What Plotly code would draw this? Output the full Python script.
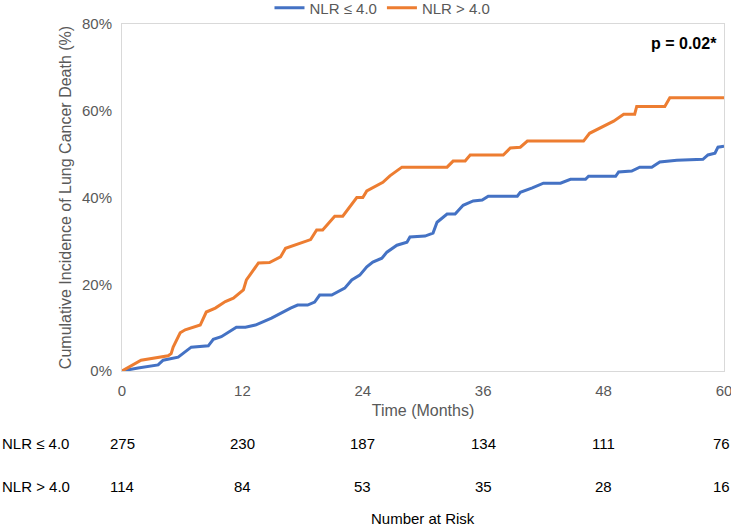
import plotly.graph_objects as go

# waktu (bulan) dan insidensi kumulatif (%)
t_low = [0, 1.6, 3.6, 4.1, 5.6, 6.9, 8.6, 9.1, 9.9, 11.4, 12.3, 13.3, 14.9, 15.6, 16.8,
         17.5, 18.5, 19.2, 19.7, 20.9, 22.2, 22.9, 23.7, 24.4, 25.0, 25.9, 26.4, 27.4,
         28.4, 28.7, 30.2, 31.0, 31.4, 32.4, 33.2, 34.0, 35.0, 35.9, 36.5, 39.4, 39.7,
         40.9, 42.0, 43.7, 44.7, 46.2, 46.5, 49.2, 49.5, 50.8, 51.6, 52.8, 53.6, 55.3,
         57.9, 58.4, 59.1, 59.4, 60]
inc_low = [0, 0.7, 1.4, 2.5, 3.2, 5.5, 5.8, 7.3, 7.9, 10.1, 10.1, 10.6, 12.2, 13.1, 14.5,
           15.2, 15.2, 15.9, 17.5, 17.5, 19.1, 21, 22.1, 24, 25.1, 26, 27.4, 29,
           29.7, 30.9, 31.1, 31.8, 34.3, 36.2, 36.2, 38.2, 39.2, 39.4, 40.3, 40.3, 41.2,
           42.2, 43.3, 43.3, 44.2, 44.2, 44.9, 44.9, 45.9, 46.1, 47, 47, 48.2, 48.6,
           48.8, 49.8, 50.2, 51.6, 51.8]

t_high = [0, 1.9, 4.6, 4.9, 5.1, 5.8, 6.3, 7.8, 8.4, 9.3, 10.3, 11.1, 12.1, 12.4, 12.9,
          13.6, 14.7, 15.8, 16.3, 17.5, 18.8, 19.4, 20.0, 21.2, 22.0, 23.4, 24.0, 24.4,
          26.0, 26.7, 27.9, 32.4, 33.0, 34.2, 34.7, 38.0, 38.7, 39.7, 40.4, 46.0, 46.6,
          49.0, 50.0, 51.1, 51.3, 54.1, 54.6, 60]
inc_high = [0, 2.5, 3.5, 4, 5.5, 8.8, 9.5, 10.6, 13.6, 14.5, 16, 16.8, 18.7, 21, 22.6,
            24.9, 25, 26.3, 28.3, 29.3, 30.3, 32.5, 32.5, 35.7, 35.7, 40, 40, 41.5,
            43.5, 45, 47, 47, 48.4, 48.4, 49.8, 49.8, 51.4, 51.6, 53, 53, 54.8,
            57.6, 59.2, 59.2, 61, 61, 63, 63]

# tabel number at risk
risk_times = [0, 12, 24, 36, 48, 60]
risk_low = [275, 230, 187, 134, 111, 76]
risk_high = [114, 84, 53, 35, 28, 16]
group_names = ["NLR ≤ 4.0", "NLR > 4.0"]

FONT = "Arial, Liberation Sans, sans-serif"
GRAY = "#595959"

fig = go.Figure()
fig.add_trace(go.Scatter(x=t_low, y=inc_low, mode="lines", name=group_names[0],
                         line=dict(color="#4472C4", width=3)))
fig.add_trace(go.Scatter(x=t_high, y=inc_high, mode="lines", name=group_names[1],
                         line=dict(color="#ED7D31", width=3)))

annotations = []
# baris tabel risiko
for shift, label, counts in [(-72, group_names[0], risk_low), (-115, group_names[1], risk_high)]:
    annotations.append(dict(x=0, xref="paper", xshift=-122, xanchor="left",
                            y=0, yref="paper", yshift=shift, yanchor="middle",
                            text=label, showarrow=False,
                            font=dict(size=15, color="#000000", family=FONT)))
    for tm, n in zip(risk_times, counts):
        # kolom terakhir digeser sedikit supaya tidak terpotong di tepi
        annotations.append(dict(x=tm, xref="x", xanchor="center",
                                xshift=-3 if tm == risk_times[-1] else 0,
                                y=0, yref="paper", yshift=shift, yanchor="middle",
                                text=str(n), showarrow=False,
                                font=dict(size=15, color="#000000", family=FONT)))

annotations.append(dict(x=0.5, xref="paper", y=0, yref="paper", yshift=-147,
                        yanchor="middle", text="Number at Risk", showarrow=False,
                        font=dict(size=15, color="#000000", family=FONT)))
annotations.append(dict(x=1, xref="paper", xshift=-5, xanchor="right",
                        y=1, yref="paper", yshift=-19, yanchor="middle",
                        text="<b>p = 0.02*</b>", showarrow=False,
                        font=dict(size=16, color="#000000", family=FONT)))

fig.update_layout(
    width=731, height=526,
    margin=dict(l=122, r=7, t=24, b=155, autoexpand=False),
    paper_bgcolor="white", plot_bgcolor="white",
    font=dict(family=FONT, size=15, color=GRAY),
    legend=dict(orientation="h", x=0.245, xanchor="left", y=1.046, yref="paper",
                yanchor="middle", font=dict(size=15, color=GRAY),
                itemwidth=30, tracegroupgap=0, bgcolor="rgba(0,0,0,0)"),
    xaxis=dict(range=[0, 60], tickvals=risk_times, showgrid=False, zeroline=False,
               showline=True, mirror=True, linecolor="#D9D9D9", linewidth=1,
               ticks="", ticklabelstandoff=6, automargin=False,
               ticklabeloverflow="allow",
               title=dict(text="Time (Months)", standoff=6,
                          font=dict(size=16, color=GRAY))),
    yaxis=dict(range=[0, 80], dtick=20, ticksuffix="%", showgrid=False, zeroline=False,
               showline=True, mirror=True, linecolor="#D9D9D9", linewidth=1,
               ticks="", ticklabelstandoff=6, automargin=False,
               title=dict(text="Cumulative Incidence of Lung Cancer Death (%)", standoff=6,
                          font=dict(size=16, color=GRAY))),
    annotations=annotations,
)

# buang margin bawaan <body> supaya figur pas dengan jendela 731x526
fig.write_html("out.html", config={"displayModeBar": False},
               post_script="document.body.style.margin = '0';")
